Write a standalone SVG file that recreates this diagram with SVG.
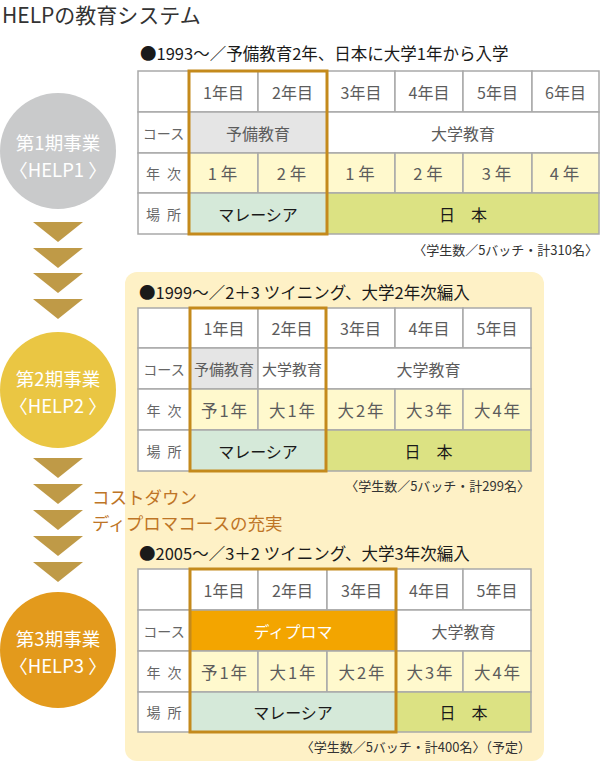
<svg xmlns="http://www.w3.org/2000/svg" width="600" height="764" viewBox="0 0 600 764">
<style>
text{font-family:"Noto Sans CJK JP","Noto Sans",sans-serif;}
.h{font-size:21px;fill:#333;}
.tt{font-size:16.5px;fill:#1a1a1a;}
.c{font-size:16px;fill:#5c5c5c;text-anchor:middle;dominant-baseline:central;}
.y{font-size:16.5px;fill:#5c5c5c;text-anchor:middle;dominant-baseline:central;letter-spacing:2px;}
.lb{font-size:14px;fill:#666;text-anchor:middle;dominant-baseline:central;word-spacing:4px;}
.k{font-size:16px;fill:#1a1a1a;text-anchor:middle;dominant-baseline:central;}
.w{font-size:16px;fill:#fff;text-anchor:middle;dominant-baseline:central;}
.n{font-size:13px;fill:#333;text-anchor:end;}
.ct{font-size:18.5px;fill:#fff;text-anchor:middle;}
.or{font-size:17.5px;fill:#BE7526;}
.g rect{stroke:#A9A9A9;stroke-width:1.5;}
.wh{fill:#fff;}.gr{fill:#E5E5E5;}.ye{fill:#FFF9CD;}.gb{fill:#D5E9D9;}.ol{fill:#DCE283;}.od{fill:#F3A500;}
.hl{fill:none;stroke:#C48A1C;stroke-width:3;}
.tri{fill:#BF9A47;}
</style>

<text class="h" x="2" y="23">HELPの教育システム</text>

<rect x="125" y="272" width="419" height="489" rx="12" fill="#FEF1C6"/>

<g id="arrows">
<polygon class="tri" points="33,222 83,222 58,242"/>
<polygon class="tri" points="33,248 83,248 58,268"/>
<polygon class="tri" points="33,273 83,273 58,293"/>
<polygon class="tri" points="33,299 83,299 58,319"/>
<polygon class="tri" points="33,458 83,458 58,478"/>
<polygon class="tri" points="33,484 83,484 58,504"/>
<polygon class="tri" points="33,510 83,510 58,530"/>
<polygon class="tri" points="33,536 83,536 58,556"/>
<polygon class="tri" points="33,562 83,562 58,582"/>
</g>

<g id="phase1">
<circle cx="58" cy="151" r="58" fill="#C9CACB"/>
<text class="ct" x="58" y="150">第1期事業</text>
<text class="ct" x="58" y="177">〈HELP1 〉</text>
</g>
<g id="phase2">
<circle cx="58" cy="390" r="58" fill="#EAC643"/>
<text class="ct" x="58" y="386">第2期事業</text>
<text class="ct" x="58" y="413">〈HELP2 〉</text>
</g>
<g id="phase3">
<circle cx="58" cy="650" r="58" fill="#E39A1C"/>
<text class="ct" x="58" y="646">第3期事業</text>
<text class="ct" x="58" y="673">〈HELP3 〉</text>
</g>

<g id="note">
<text class="or" x="92" y="504">コストダウン</text>
<text class="or" x="92" y="530">ディプロマコースの充実</text>
</g>

<g id="table1">
<text class="tt" x="140" y="60">●1993～／予備教育2年、日本に大学1年から入学</text>
<g class="g">
<rect class="wh" x="138" y="71" width="51" height="41"/>
<rect class="wh" x="189" y="71" width="69" height="41"/>
<rect class="wh" x="258" y="71" width="69" height="41"/>
<rect class="wh" x="327" y="71" width="68" height="41"/>
<rect class="wh" x="395" y="71" width="68" height="41"/>
<rect class="wh" x="463" y="71" width="69" height="41"/>
<rect class="wh" x="532" y="71" width="67" height="41"/>
<rect class="wh" x="138" y="112" width="51" height="41"/>
<rect class="gr" x="189" y="112" width="138" height="41"/>
<rect class="wh" x="327" y="112" width="272" height="41"/>
<rect class="wh" x="138" y="153" width="51" height="40"/>
<rect class="ye" x="189" y="153" width="69" height="40"/>
<rect class="ye" x="258" y="153" width="69" height="40"/>
<rect class="ye" x="327" y="153" width="68" height="40"/>
<rect class="ye" x="395" y="153" width="68" height="40"/>
<rect class="ye" x="463" y="153" width="69" height="40"/>
<rect class="ye" x="532" y="153" width="67" height="40"/>
<rect class="wh" x="138" y="193" width="51" height="41"/>
<rect class="gb" x="189" y="193" width="138" height="41"/>
<rect class="ol" x="327" y="193" width="272" height="41"/>
</g>
<text class="c" x="223.5" y="91.5">1年目</text>
<text class="c" x="292.5" y="91.5">2年目</text>
<text class="c" x="361" y="91.5">3年目</text>
<text class="c" x="429" y="91.5">4年目</text>
<text class="c" x="497.5" y="91.5">5年目</text>
<text class="c" x="565.5" y="91.5">6年目</text>
<text class="lb" x="163.5" y="132.5">コース</text>
<text class="c" x="258" y="132.5">予備教育</text>
<text class="c" x="463" y="132.5">大学教育</text>
<text class="lb" x="163.5" y="173">年 次</text>
<text class="y" x="224.5" y="173" style="letter-spacing:4px">1年</text>
<text class="y" x="293.5" y="173" style="letter-spacing:4px">2年</text>
<text class="y" x="362" y="173" style="letter-spacing:4px">1年</text>
<text class="y" x="430" y="173" style="letter-spacing:4px">2年</text>
<text class="y" x="498.5" y="173" style="letter-spacing:4px">3年</text>
<text class="y" x="566.5" y="173" style="letter-spacing:4px">4年</text>
<text class="lb" x="163.5" y="213.5">場 所</text>
<text class="k" x="258" y="213.5">マレーシア</text>
<text class="k" x="463" y="213.5">日　本</text>
<rect class="hl" x="189" y="71" width="138" height="163"/>
<text class="n" x="598" y="255">〈学生数／5バッチ・計310名〉</text>
</g>

<g id="table2">
<text class="tt" x="139" y="299">●1999～／2＋3 ツイニング、大学2年次編入</text>
<g class="g">
<rect class="wh" x="138" y="308" width="52" height="40"/>
<rect class="wh" x="190" y="308" width="68" height="40"/>
<rect class="wh" x="258" y="308" width="68" height="40"/>
<rect class="wh" x="326" y="308" width="69" height="40"/>
<rect class="wh" x="395" y="308" width="68" height="40"/>
<rect class="wh" x="463" y="308" width="68" height="40"/>
<rect class="wh" x="138" y="348" width="52" height="41"/>
<rect class="gr" x="190" y="348" width="68" height="41"/>
<rect class="wh" x="258" y="348" width="68" height="41"/>
<rect class="wh" x="326" y="348" width="205" height="41"/>
<rect class="wh" x="138" y="389" width="52" height="41"/>
<rect class="ye" x="190" y="389" width="68" height="41"/>
<rect class="ye" x="258" y="389" width="68" height="41"/>
<rect class="ye" x="326" y="389" width="69" height="41"/>
<rect class="ye" x="395" y="389" width="68" height="41"/>
<rect class="ye" x="463" y="389" width="68" height="41"/>
<rect class="wh" x="138" y="430" width="52" height="41"/>
<rect class="gb" x="190" y="430" width="136" height="41"/>
<rect class="ol" x="326" y="430" width="205" height="41"/>
</g>
<text class="c" x="224" y="328">1年目</text>
<text class="c" x="292" y="328">2年目</text>
<text class="c" x="360.5" y="328">3年目</text>
<text class="c" x="429" y="328">4年目</text>
<text class="c" x="497" y="328">5年目</text>
<text class="lb" x="164" y="368.5">コース</text>
<text class="c" x="224" y="368.5" style="font-size:15px">予備教育</text>
<text class="c" x="292" y="368.5" style="font-size:15px">大学教育</text>
<text class="c" x="428.5" y="368.5">大学教育</text>
<text class="lb" x="164" y="409.5">年 次</text>
<text class="y" x="225" y="409.5">予1年</text>
<text class="y" x="293" y="409.5">大1年</text>
<text class="y" x="361.5" y="409.5">大2年</text>
<text class="y" x="430" y="409.5">大3年</text>
<text class="y" x="498" y="409.5">大4年</text>
<text class="lb" x="164" y="450.5">場 所</text>
<text class="k" x="258" y="450.5">マレーシア</text>
<text class="k" x="428.5" y="450.5">日　本</text>
<rect class="hl" x="190" y="308" width="136" height="163"/>
<text class="n" x="530" y="491">〈学生数／5バッチ・計299名〉</text>
</g>

<g id="table3">
<text class="tt" x="139" y="560">●2005～／3＋2 ツイニング、大学3年次編入</text>
<g class="g">
<rect class="wh" x="138" y="569" width="52" height="41"/>
<rect class="wh" x="190" y="569" width="68" height="41"/>
<rect class="wh" x="258" y="569" width="69" height="41"/>
<rect class="wh" x="327" y="569" width="69" height="41"/>
<rect class="wh" x="396" y="569" width="67" height="41"/>
<rect class="wh" x="463" y="569" width="68" height="41"/>
<rect class="wh" x="138" y="610" width="52" height="41"/>
<rect class="od" x="190" y="610" width="206" height="41"/>
<rect class="wh" x="396" y="610" width="135" height="41"/>
<rect class="wh" x="138" y="651" width="52" height="41"/>
<rect class="ye" x="190" y="651" width="68" height="41"/>
<rect class="ye" x="258" y="651" width="69" height="41"/>
<rect class="ye" x="327" y="651" width="69" height="41"/>
<rect class="ye" x="396" y="651" width="67" height="41"/>
<rect class="ye" x="463" y="651" width="68" height="41"/>
<rect class="wh" x="138" y="692" width="52" height="40"/>
<rect class="gb" x="190" y="692" width="206" height="40"/>
<rect class="ol" x="396" y="692" width="135" height="40"/>
</g>
<text class="c" x="224" y="589.5">1年目</text>
<text class="c" x="292.5" y="589.5">2年目</text>
<text class="c" x="361.5" y="589.5">3年目</text>
<text class="c" x="429.5" y="589.5">4年目</text>
<text class="c" x="497" y="589.5">5年目</text>
<text class="lb" x="164" y="630.5">コース</text>
<text class="w" x="293" y="630.5">ディプロマ</text>
<text class="c" x="463.5" y="630.5">大学教育</text>
<text class="lb" x="164" y="671.5">年 次</text>
<text class="y" x="225" y="671.5">予1年</text>
<text class="y" x="293.5" y="671.5">大1年</text>
<text class="y" x="362.5" y="671.5">大2年</text>
<text class="y" x="430.5" y="671.5">大3年</text>
<text class="y" x="498" y="671.5">大4年</text>
<text class="lb" x="164" y="712">場 所</text>
<text class="k" x="293" y="712">マレーシア</text>
<text class="k" x="463.5" y="712">日　本</text>
<rect class="hl" x="190" y="569" width="206" height="163"/>
<text class="n" x="531" y="752">〈学生数／5バッチ・計400名〉（予定）</text>
</g>
</svg>
